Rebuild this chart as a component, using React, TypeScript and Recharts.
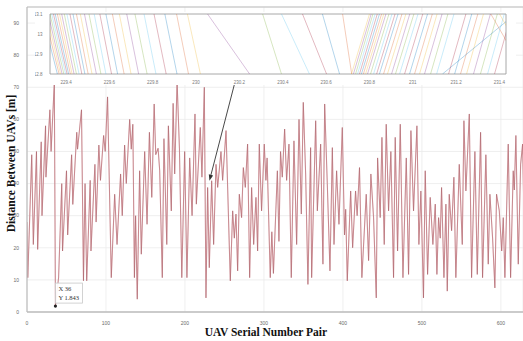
import React from 'react';
import {
  LineChart, Line, XAxis, YAxis, CartesianGrid,
  ReferenceLine, ReferenceDot, ReferenceArea,
} from 'recharts';

// main trace: peaks / troughs
const pairs = [
  0, 1, 6, 8, 12, 13.5, 18, 19, 23.5, 24, 29, 30.5, 34.6, 36, 40, 44, 45, 50, 51.5, 56.5,
  58, 63, 64, 69, 71.5, 73.5, 75.6, 80, 81, 86, 87.5, 91, 93, 97, 99, 102, 106.7, 111, 114, 118.5,
  120.6, 123.6, 125.7, 130, 132, 134, 136, 137.5, 139.6, 142.6, 144.7, 149, 152, 155, 158, 161, 163, 166, 168, 171.3,
  173.4, 177, 179, 182.7, 185, 187, 190, 193, 196, 199.6, 202.5, 206, 209, 212.7, 214.4, 219.4, 221.5, 224.5, 226.6, 228.7,
  230.8, 233.8, 236.3, 239.3, 241.4, 245.6, 247.7, 252, 257.4, 260.4, 262.5, 264.6, 266.7, 268.8, 271.7, 273.9, 276.4, 279.3, 281.9, 284.4,
  287, 289.9, 292, 294.1, 297, 300.4, 302.5, 304, 308, 310, 312, 317, 319, 321, 323.2, 326.2, 328.7, 331.7, 334.6, 338,
  341.4, 344.4, 347.3, 349.8, 352.8, 355.7, 359.1, 360.4, 365.5, 367.6, 371.8, 374.7, 376.9, 380.2, 383.6, 386.6, 388.7, 392, 395, 399.2,
  402, 403.5, 405.5, 409.8, 412.3, 416, 418, 421, 424, 429.5, 432.5, 435.4, 438.8, 442.2, 443.9, 447.2, 449.4, 452.3, 454.8, 457.8,
  460.7, 464.1, 466.2, 469.2, 472.6, 476, 480.2, 483.1, 486.1, 489.4, 493.7, 496.2, 498.7, 502, 504.2, 507.2, 510.5, 513.9, 516.9, 519,
  521.1, 523.2, 524.9, 527.9, 530.4, 532.1, 534.6, 537.6, 540.5, 543, 547.3, 551.1, 553.2, 555.7, 560, 562.9, 567.1, 570.1, 574.3, 576.8,
  581, 584, 586.1, 589.5, 592.4, 594.5, 598, 601, 603, 605.1, 609.3, 612.3, 615.6, 617, 619, 622, 625, 627.5, 630,
];
const distances = [
  28, 10.7, 49, 21, 50, 19.5, 53, 30, 58, 42, 63, 50, 71.5, 1.843, 10.7, 40, 19, 44, 24, 49,
  33.5, 56, 50.7, 63, 9.7, 40, 9.7, 41, 19, 46, 28, 52, 41, 55, 50, 67, 10.7, 36.7, 21, 43,
  30, 52, 40, 60, 50.7, 58.5, 10.7, 30, 4, 44, 18, 50, 27.3, 56, 35.7, 64.8, 49, 51, 44, 10.7,
  54, 21, 58, 31.5, 65, 43, 72, 51, 10.7, 50, 10.7, 48, 30, 61.7, 33.6, 57.5, 42, 70, 4.4, 38.8,
  13.8, 40.9, 21, 46, 38.8, 50, 41, 56.5, 9.7, 31.5, 23, 30.5, 12.8, 36.7, 29.4, 45, 38.8, 52.3, 10.7, 38.8,
  21, 35.7, 19, 52.3, 31.5, 52.3, 41, 48, 10.7, 25, 12, 44, 22, 50, 42, 57, 41, 52.3, 10.7, 53.3,
  21, 60, 30.5, 65.3, 43, 8.6, 51.2, 10.7, 59.6, 31.5, 52.3, 14.9, 64.8, 40, 12.8, 51.2, 21, 44, 27.3, 57.5,
  24, 32, 9.7, 37.7, 20, 37.7, 30, 45, 10.7, 36.7, 16, 43, 29.4, 4.4, 48, 29.4, 54.4, 21, 58.5, 31.5,
  50, 10.7, 54.4, 19, 58.5, 10.7, 48, 11.7, 56.5, 31.5, 58, 21, 37.7, 4.4, 44, 11.7, 35.7, 21, 33.6, 11.7,
  29.4, 23, 38.8, 10.7, 33.6, 6.5, 36.7, 25.3, 42, 10.7, 46, 21, 59.6, 37.7, 61.7, 10.7, 50, 11.7, 56, 10.7,
  49, 14.9, 36.7, 23, 7.5, 36.7, 31.5, 19, 29.4, 10.7, 52.3, 10.7, 44, 38, 55, 14.9, 46, 52.3, 20,
];

const xTicks = [0, 100, 200, 300, 400, 500, 600];
const yTicks = [0, 10, 20, 30, 40, 50, 60, 70, 80, 90];

// zoomed inset: each trajectory crosses the window from y=13.1 to y=12.8
const insetXTicks = [229.4, 229.6, 229.8, 230, 230.2, 230.4, 230.6, 230.8, 231, 231.2, 231.4];
const insetYTicks = [12.8, 12.9, 13, 13.1];
const insetTopX = [
  229.29, 229.3, 229.31, 229.318, 229.326, 229.334, 229.342, 229.35, 229.36, 229.37,
  229.38, 229.392, 229.404, 229.418, 229.432, 229.448, 229.466, 229.485, 229.506, 229.53,
  229.556, 229.584, 229.614, 229.646, 229.68, 229.718, 229.76, 229.806, 229.856, 229.91,
  229.96, 230.053, 230.307, 230.394, 230.491, 230.583, 230.676,
  230.8, 230.808, 230.816, 230.826, 230.836, 230.846, 230.856, 230.866, 230.876, 230.89,
  230.904, 230.918, 230.932, 230.95, 230.968, 230.986, 231.005, 231.024, 231.046, 231.068,
  231.09, 231.112, 231.135, 231.162, 231.19, 231.245, 231.272, 231.3, 231.326, 231.358,
  231.39, 231.422, 231.455, 231.473, 231.36, 231.4,
];
const insetBottomX = [
  229.36, 229.368, 229.375, 229.382, 229.39, 229.398, 229.405, 229.412, 229.42, 229.428,
  229.437, 229.448, 229.46, 229.473, 229.487, 229.502, 229.52, 229.54, 229.561, 229.584,
  229.61, 229.638, 229.668, 229.7, 229.735, 229.774, 229.815, 229.862, 229.912, 229.965,
  230.02, 230.247, 230.394, 230.523, 230.602, 230.662, 230.718,
  230.717, 230.726, 230.736, 230.745, 230.754, 230.763, 230.772, 230.782, 230.791, 230.805,
  230.819, 230.833, 230.846, 230.865, 230.883, 230.902, 230.92, 230.939, 230.962, 230.985,
  231.008, 231.031, 231.054, 231.082, 231.11, 231.165, 231.193, 231.22, 231.248, 231.28,
  231.312, 231.345, 231.377, 231.137, 231.52, 231.56,
];

const matlabColors = ['#0072BD', '#D95319', '#EDB120', '#7E2F8E', '#77AC30', '#4DBEEE', '#A2142F'];

const mainData = pairs.map((p, i) => ({ pair: p, dist: distances[i] }));

const tickStyle = { fontSize: 5, fontFamily: 'Liberation Sans, Arial', fill: '#6b6b6b' };
const insetTick = { fontSize: 4.5, fontFamily: 'Liberation Sans, Arial', fill: '#7a7a7a' };
const titleFont = 'Liberation Serif, Times New Roman, serif';

const Arrow = (p: any) => {
  const { x1, y1, x2, y2 } = p;
  const a = Math.atan2(y2 - y1, x2 - x1);
  const L = 6, W = 2.2;
  const bx = x2 - L * Math.cos(a), by = y2 - L * Math.sin(a);
  const pts = `${x2},${y2} ${bx + W * Math.sin(a)},${by - W * Math.cos(a)} ${bx - W * Math.sin(a)},${by + W * Math.cos(a)}`;
  return (
    <g>
      <line x1={x1} y1={y1} x2={bx} y2={by} stroke="#333" strokeWidth={0.9} />
      <polygon points={pts} fill="#333" />
    </g>
  );
};

const DataTip = (p: any) => {
  const { cx, cy } = p;
  return (
    <g>
      <circle cx={cx} cy={cy} r={1.6} fill="#222" />
      <rect x={cx} y={cy - 23} width={27} height={20} fill="#fff" fillOpacity={0.92} stroke="#c8c8c8" strokeWidth={0.8} />
      <text x={cx + 3} y={cy - 15.5} fontSize={6.5} fontFamily={titleFont} fill="#333">X 36</text>
      <text x={cx + 3} y={cy - 6.5} fontSize={6.5} fontFamily={titleFont} fill="#333">Y 1.843</text>
    </g>
  );
};

const YTitle = (p: any) => {
  const vb = p.viewBox;
  const x = vb.x + 15;
  const y = vb.y + vb.height / 2 + 4;
  return (
    <text x={x} y={y} transform={`rotate(-90 ${x} ${y})`} textAnchor="middle"
      fontSize={11.5} fontWeight="bold" fontFamily={titleFont} fill="#111">
      Distance Between UAVs [m]
    </text>
  );
};

const XTitle = (p: any) => {
  const vb = p.viewBox;
  return (
    <text x={vb.x + vb.width / 2 - 9} y={vb.y + 24} textAnchor="middle"
      fontSize={11.5} fontWeight="bold" fontFamily={titleFont} fill="#111">
      UAV Serial Number Pair
    </text>
  );
};

export default function App() {
  return (
    <div style={{ position: 'fixed', left: 0, top: 0, width: 523, height: 341, background: '#fff', overflow: 'hidden' }}>
      <LineChart width={523} height={341} data={mainData} margin={{ top: 7, right: 0, bottom: 0, left: 0 }}>
        <CartesianGrid stroke="#ebebeb" strokeWidth={0.8} />
        <XAxis
          dataKey="pair" type="number" domain={[0, 628]} ticks={xTicks} allowDataOverflow
          height={29} tick={tickStyle} tickLine={false} tickMargin={3}
          axisLine={{ stroke: '#bdbdbd', strokeWidth: 1.5 }}
          label={{ content: XTitle }}
        />
        <YAxis
          type="number" domain={[0, 95]} ticks={yTicks} allowDataOverflow
          width={27} tick={tickStyle} tickLine={false} tickMargin={2}
          axisLine={{ stroke: '#bdbdbd', strokeWidth: 1.2 }}
          label={{ content: YTitle }}
        />
        <ReferenceLine y={95} stroke="#bdbdbd" strokeWidth={1} />
        <Line type="linear" dataKey="dist" stroke="#e7b3b8" strokeWidth={1.1} dot={false} isAnimationActive={false} />
        <Line type="linear" dataKey="dist" stroke="#8a3a42" strokeWidth={0.45} strokeOpacity={0.75} dot={false} isAnimationActive={false} />
        <ReferenceLine segment={[{ x: 264.6, y: 72.8 }, { x: 231, y: 40.9 }]} shape={Arrow} />
        <ReferenceDot x={36} y={1.843} r={1.6} shape={DataTip} />
      </LineChart>

      <div style={{ position: 'absolute', left: 35, top: 12, width: 481, height: 73, background: '#fff' }}>
        <LineChart width={481} height={73} margin={{ top: 2, right: 10, bottom: 0, left: 0 }}>
          <XAxis
            dataKey="x" type="number" domain={[229.326, 231.43]} ticks={insetXTicks} allowDataOverflow
            height={11} tick={insetTick} tickLine={false} axisLine={false} tickMargin={1}
          />
          <YAxis
            type="number" domain={[12.8, 13.1]} ticks={insetYTicks} allowDataOverflow
            width={15} tick={insetTick} tickLine={false} axisLine={false} tickMargin={1.5}
          />
          {insetTopX.map((tx, i) => (
            <Line
              key={i}
              data={[{ x: tx, y: 13.1 }, { x: insetBottomX[i], y: 12.8 }]}
              dataKey="y" type="linear"
              stroke={matlabColors[i % matlabColors.length]} strokeWidth={0.6} strokeOpacity={0.5}
              dot={false} isAnimationActive={false}
            />
          ))}
          <ReferenceArea x1={229.326} x2={231.43} y1={12.8} y2={13.1} fill="none" stroke="#9e9e9e" strokeWidth={0.9} />
        </LineChart>
      </div>
    </div>
  );
}
